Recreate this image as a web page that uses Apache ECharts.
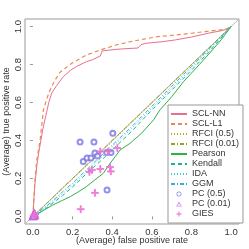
<!DOCTYPE html>
<html><head><meta charset="utf-8">
<script src="https://cdn.jsdelivr.net/npm/echarts@6/dist/echarts.min.js"></script>
<style>html,body{margin:0;padding:0;background:#fff}#c{width:249px;height:249px}</style>
</head><body><div id="c"></div>
<script>
const ticks = [0, 0.2, 0.4, 0.6, 0.8, 1.0];
const xTitle = '(Average) false positive rate';
const yTitle = '(Average) true positive rate';

const sclNN_x = [0, 0.005, 0.01, 0.02, 0.03, 0.04, 0.05, 0.065, 0.08, 0.095, 0.12, 0.153, 0.19, 0.22, 0.27, 0.3, 0.34, 0.35, 0.42, 0.49, 0.53, 0.545, 0.57, 0.65, 0.72, 0.8, 0.885, 0.95, 0.995, 1.0];
const sclNN_y = [0, 0.09, 0.17, 0.27, 0.34, 0.40, 0.46, 0.53, 0.6, 0.65, 0.69, 0.736, 0.77, 0.79, 0.815, 0.825, 0.845, 0.872, 0.88, 0.885, 0.887, 0.905, 0.912, 0.92, 0.93, 0.945, 0.965, 0.978, 0.99, 1.0];

const sclL1_x = [0, 0.005, 0.01, 0.02, 0.036, 0.053, 0.07, 0.086, 0.11, 0.137, 0.196, 0.27, 0.34, 0.42, 0.49, 0.55, 0.63, 0.72, 0.80, 0.88, 0.97, 1.0];
const sclL1_y = [0, 0.1, 0.19, 0.3, 0.40, 0.56, 0.62, 0.665, 0.715, 0.76, 0.807, 0.85, 0.877, 0.903, 0.92, 0.932, 0.947, 0.956, 0.965, 0.975, 0.985, 1.0];

const diag_x = [0, 0.1, 0.2, 0.3, 0.4, 0.5, 0.6, 0.7, 0.8, 0.9, 1.0];
const rfci05_y = [0, 0.097, 0.196, 0.295, 0.395, 0.495, 0.596, 0.697, 0.797, 0.898, 1.0];
const rfci001_y = [0, 0.1, 0.2, 0.3, 0.4, 0.5, 0.6, 0.7, 0.8, 0.9, 1.0];

const pearson_x = [0, 0.02, 0.05, 0.1, 0.15, 0.19, 0.23, 0.27, 0.31, 0.355, 0.39, 0.44, 0.49, 0.55, 0.61, 0.64, 0.7, 0.76, 0.84, 0.9, 0.95, 1.0];
const pearson_y = [0, 0.01, 0.03, 0.06, 0.085, 0.105, 0.13, 0.157, 0.19, 0.227, 0.28, 0.35, 0.385, 0.44, 0.51, 0.56, 0.63, 0.71, 0.80, 0.87, 0.93, 1.0];

const band_x = [0, 0.05, 0.1, 0.15, 0.2, 0.27, 0.35, 0.42, 0.5, 0.6, 0.7, 0.8, 0.9, 1.0];
const kendall_y = [0, 0.03, 0.07, 0.11, 0.155, 0.225, 0.30, 0.37, 0.45, 0.56, 0.665, 0.77, 0.88, 1.0];
const ida_y = [0, 0.035, 0.075, 0.12, 0.165, 0.235, 0.315, 0.385, 0.465, 0.57, 0.675, 0.78, 0.89, 1.0];
const ggm_y = [0, 0.04, 0.082, 0.13, 0.175, 0.245, 0.325, 0.395, 0.475, 0.58, 0.685, 0.79, 0.895, 1.0];

const pc05_x = [0.238, 0.308, 0.403, 0.254, 0.273, 0.293, 0.313, 0.326, 0.372, 0.394, 0.374];
const pc05_y = [0.392, 0.392, 0.438, 0.289, 0.308, 0.308, 0.334, 0.318, 0.337, 0.337, 0.139];

const pc001_x = [0, 0.003, 0.006, 0.004, 0.01, 0.002, 0.008];
const pc001_y = [0, 0.006, 0.003, 0.01, 0.008, 0.002, 0.015];

const gies_x = [0.241, 0.313, 0.285, 0.298, 0.34, 0.389, 0.393, 0.34, 0.38, 0.426, 0.005, 0.01];
const gies_y = [0.038, 0.124, 0.235, 0.245, 0.25, 0.26, 0.237, 0.342, 0.342, 0.36, 0.005, 0.01];

const diagRef_x = [-0.04, 1.04];
const diagRef_y = [-0.04, 1.04];

const lineNames = ['SCL-NN','SCL-L1','RFCI (0.5)','RFCI (0.01)','Pearson','Kendall','IDA','GGM'];
const pointNames = ['PC (0.5)','PC (0.01)','GIES'];

function pts(xs, ys){ return xs.map((x,i)=>[x, ys[i]]); }
const FONT = '"Liberation Sans", Arial, Helvetica, sans-serif';
const TXT = '#333';

function lineS(name, xs, ys, color, type, width){
  return {type:'line', name, data: pts(xs,ys), symbol:'none', silent:true, animation:false,
    lineStyle:{color, width: width||1, type: type||'solid'}, itemStyle:{color}, z:3};
}
function scatS(name, xs, ys, color, symbol, size){
  return {type:'scatter', name, data: pts(xs,ys), symbol, symbolSize:size, silent:true, animation:false,
    itemStyle:{color, borderColor:color, borderWidth:1}, z:4};
}
const plusPath = 'path://M3,0h1v3h3v1h-3v3h-1v-3h-3v-1h3z';
const plusIcon = 'path://M2.6,0h1.8v2.6h2.6v1.8h-2.6v2.6h-1.8v-2.6h-2.6v-1.8h2.6z';
const triPath = 'path://M4,0L8,7L0,7Z M4,2.3L1.6,6.1L6.4,6.1Z';
const circPath = 'path://M4,0A4,4,0,1,1,3.99,0Z M4,1.2A2.8,2.8,0,1,0,4.01,1.2Z';
const pointIcons = [circPath, triPath, plusIcon];

const legendData = lineNames.map(n=>({name:n, itemStyle:{opacity:0}}))
  .concat(pointNames.map((n,i)=>({name:n, icon:pointIcons[i], itemStyle:{borderWidth:0}})));

const chart = echarts.init(document.getElementById('c'), null, {renderer:'canvas'});
chart.setOption({
  animation:false,
  backgroundColor:'#fff',
  grid:{left:25, top:19, right:10, bottom:25, show:true, borderColor:'#999', borderWidth:1, backgroundColor:'transparent',
    containLabel:false, outerBoundsMode:'none'},
  xAxis:{type:'value', min:-0.04, max:1.04,
    axisLine:{show:false}, splitLine:{show:false},
    axisTick:{show:true, customValues:ticks, length:3, lineStyle:{color:'#999'}},
    axisLabel:{customValues:ticks, formatter:v=>v.toFixed(1), fontSize:9.5, color:TXT, fontFamily:FONT, margin:3}},
  yAxis:{type:'value', min:-0.04, max:1.04,
    axisLine:{show:false}, splitLine:{show:false},
    axisTick:{show:true, customValues:ticks, length:3, lineStyle:{color:'#999'}},
    axisLabel:{customValues:ticks, formatter:v=>v.toFixed(1), fontSize:9.5, color:TXT, fontFamily:FONT, rotate:90, margin:2}},
  graphic:[
    {type:'text', x:132, y:241, silent:true, style:{text:xTitle, fill:TXT, font:'9px ' + FONT, textAlign:'center', textVerticalAlign:'middle'}},
    {type:'text', x:7, y:121.5, rotation:Math.PI/2, silent:true, style:{text:yTitle, fill:TXT, font:'9px ' + FONT, textAlign:'center', textVerticalAlign:'middle'}}
  ],
  legend:{data:legendData, orient:'vertical', left:168, top:105, padding:[4,4,4,2], itemWidth:16, itemHeight:5, itemGap:0,
    symbolKeepAspect:true,
    backgroundColor:'#fff', borderColor:'#999', borderWidth:1, borderRadius:0,
    textStyle:{fontSize:9, color:TXT, fontFamily:FONT, lineHeight:10}, selectedMode:false},
  series:[
    {type:'line', name:'diag', data: pts(diagRef_x, diagRef_y), symbol:'none', silent:true, lineStyle:{color:'#b8b8b8', width:1}, z:2},
    lineS('SCL-NN', sclNN_x, sclNN_y, '#e8708c', 'solid', 1),
    lineS('SCL-L1', sclL1_x, sclL1_y, '#e88a55', [4,3], 1.2),
    lineS('RFCI (0.5)', diag_x, rfci05_y, '#c9a22a', [1,2], 1),
    lineS('RFCI (0.01)', diag_x, rfci001_y, '#9aa51e', [4,2,1,2], 1),
    lineS('Pearson', pearson_x, pearson_y, '#2fb048', 'solid', 1),
    lineS('Kendall', band_x, kendall_y, '#14b894', [4,3], 1),
    lineS('IDA', band_x, ida_y, '#45c8d8', [1,2], 1),
    lineS('GGM', band_x, ggm_y, '#35aee6', [4,2,1,2], 1),
    scatS('PC (0.5)', pc05_x, pc05_y, '#7676e4', 'emptyCircle', 5),
    scatS('PC (0.01)', pc001_x, pc001_y, '#c164e0', 'emptyTriangle', 6),
    scatS('GIES', gies_x, gies_y, '#ea70d2', plusPath, 7)
  ]
});
</script></body></html>
